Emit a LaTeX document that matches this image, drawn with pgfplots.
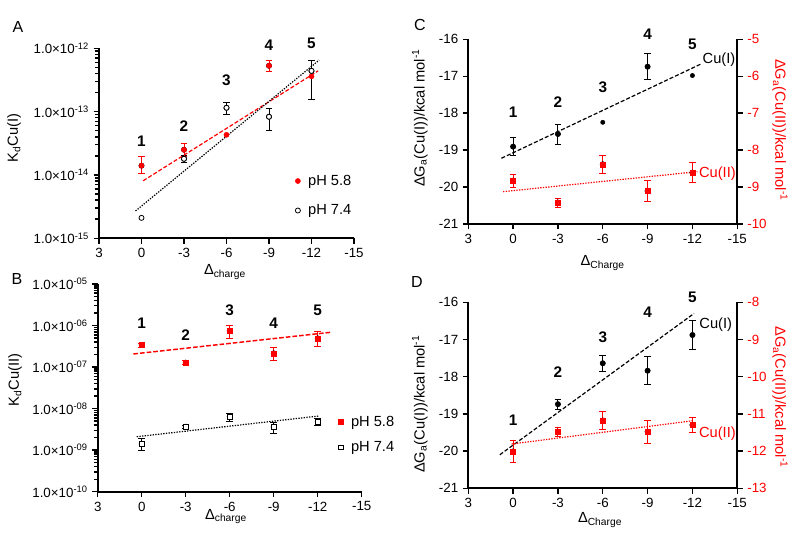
\documentclass[border=0pt]{standalone}
\usepackage{fontspec}
\setmainfont{Liberation Sans}
\usepackage{pgfplots}
\pgfplotsset{compat=1.18}
\pgfplotsset{
  panel/.style={
    scale only axis, clip=false, anchor=south west,
    x dir=reverse, xmin=-15, xmax=3, xtick={3,0,-3,-6,-9,-12,-15},
    axis line style={-, line width=1.4pt},
    tick align=outside,
    major tick length=4pt,
    every tick/.style={black, line width=1.1pt},
    tick label style={font=\fontsize{10}{12}\selectfont},
    /pgf/number format/assume math mode=true,
    label style={font=\fontsize{11}{13}\selectfont},
    legend style={draw=none, fill=none, font=\fontsize{11}{13}\selectfont, inner sep=0pt},
    legend cell align=left,
    legend image code/.code={\draw[##1] plot coordinates {(0pt,0pt)}; \path (5.5pt,0pt);},
  },
  logminor/.style={extra y tick labels={}, extra y tick style={major tick length=2.8pt}},
  ebar/.style={forget plot, only marks, mark=none, error bars/.cd, y dir=both, y explicit,
    error bar style={line width=0.7pt, solid, draw=#1},
    error mark options={rotate=90, mark size=2.5pt, line width=0.7pt, draw=#1}},
  fit/.style={no marks, line width=0.9pt, forget plot},
}
\tikzset{
  num/.style={font=\bfseries\fontsize{11.5}{13}\selectfont},
  lab/.style={font=\fontsize{11}{13}\selectfont},
}
\begin{document}
\begin{tikzpicture}
\path[use as bounding box] (0,0) rectangle (600pt,408pt);
\node[font=\fontsize{12}{14}\selectfont] at (13.5pt,387.75pt) {A};
\node[font=\fontsize{12}{14}\selectfont] at (12.75pt,198.75pt) {B};
\node[font=\fontsize{12}{14}\selectfont] at (315pt,389.25pt) {C};
\node[font=\fontsize{12}{14}\selectfont] at (312.75pt,196.5pt) {D};

% ---------------- Panel A
\begin{axis}[panel, at={(74.25pt,229.3pt)}, width=191.25pt, height=142.5pt,
  axis lines*=left, xtick pos=left, ytick pos=left, ymode=log, log basis y=10, ymin=1e-15, ymax=1e-12,
  ytick={1e-15,1e-14,1e-13,1e-12}, logminor,
  extra y ticks={2e-15,3e-15,4e-15,5e-15,6e-15,7e-15,8e-15,9e-15,2e-14,3e-14,4e-14,5e-14,6e-14,7e-14,8e-14,9e-14,2e-13,3e-13,4e-13,5e-13,6e-13,7e-13,8e-13,9e-13},
  yticklabels={1.0×10\textsuperscript{-15},1.0×10\textsuperscript{-14},1.0×10\textsuperscript{-13},1.0×10\textsuperscript{-12}},
  xlabel={Δ\textsubscript{charge}}, xlabel style={at={(axis description cs:0.494,-0.177)}, anchor=center},
  ylabel={K\textsubscript{d}Cu(I)}, ylabel style={at={(axis description cs:-0.333,0.528)}, anchor=center},
  legend style={at={(0.769,0.349)}, anchor=north west, row sep=9pt},
]
\addplot[fit, red, dash pattern=on 3pt off 1.5pt] coordinates {(-0.12,8.1e-15) (-12.47,4.4e-13)};
\addplot[fit, black, dash pattern=on 1pt off 1pt] coordinates {(0.42,2.7e-15) (-12.54,6.5e-13)};
\addplot[ebar=black] coordinates {(-3,1.8e-14) += (0,0.2e-14) -= (0,0.2e-14) (-6,1.15e-13) += (0,0.25e-13) -= (0,0.24e-13) (-9,8.3e-14) += (0,0.3e-13) -= (0,0.32e-13) (-12,4.4e-13) += (0,2.0e-13) -= (0,2.83e-13)};
\addplot[ebar=red] coordinates {(0,1.4e-14) += (0,0.55e-14) -= (0,0.34e-14) (-3,2.5e-14) += (0,0.66e-14) -= (0,0.55e-14) (-9,5.3e-13) += (0,1.2e-13) -= (0,1.0e-13)};
\addplot[only marks, mark=*, mark size=1.9pt, red] coordinates {(0,1.4e-14) (-3,2.5e-14) (-6,4.3e-14) (-9,5.3e-13) (-12,3.6e-13)};
\addlegendentry{pH 5.8}
\addplot[only marks, mark=*, mark size=1.9pt, black, mark options={fill=white, draw=black, line width=0.6pt}] coordinates {(0,2.1e-15) (-3,1.8e-14) (-6,1.15e-13) (-9,8.3e-14) (-12,4.4e-13)};
\addlegendentry{pH 7.4}
\node[num] at (axis cs:0,3.35e-14) {1};
\node[num] at (axis cs:-3,5.9e-14) {2};
\node[num] at (axis cs:-6,3.16e-13) {3};
\node[num] at (axis cs:-9,1.1e-12) {4};
\node[num] at (axis cs:-12,1.2e-12) {5};
\end{axis}

% ---------------- Panel B
\begin{axis}[panel, at={(73.3pt,39.2pt)}, width=198pt, height=155.8pt,
  axis lines*=left, xtick pos=left, ytick pos=left, ymode=log, log basis y=10, ymin=1e-10, ymax=1e-5,
  ytick={1e-10,1e-9,1e-8,1e-7,1e-6,1e-5}, logminor,
  extra y ticks={2e-10,3e-10,4e-10,5e-10,6e-10,7e-10,8e-10,9e-10,2e-9,3e-9,4e-9,5e-9,6e-9,7e-9,8e-9,9e-9,2e-8,3e-8,4e-8,5e-8,6e-8,7e-8,8e-8,9e-8,2e-7,3e-7,4e-7,5e-7,6e-7,7e-7,8e-7,9e-7,2e-6,3e-6,4e-6,5e-6,6e-6,7e-6,8e-6,9e-6},
  yticklabels={1.0×10\textsuperscript{-10},1.0×10\textsuperscript{-09},1.0×10\textsuperscript{-08},1.0×10\textsuperscript{-07},1.0×10\textsuperscript{-06},1.0×10\textsuperscript{-05}},
  xlabel={Δ\textsubscript{charge}}, xlabel style={at={(axis description cs:0.486,-0.12)}, anchor=center},
  ylabel={K\textsubscript{d}Cu(II)}, ylabel style={at={(axis description cs:-0.313,0.538)}, anchor=center},
  legend style={at={(0.91,0.379)}, anchor=north west, row sep=6pt},
]
\addplot[fit, red, line width=1.1pt, dash pattern=on 3.5pt off 1.5pt] coordinates {(0.57,2.07e-7) (-12.84,6.85e-7)};
\addplot[fit, black, dash pattern=on 1pt off 1pt] coordinates {(0.34,2.11e-9) (-12.05,6.64e-9)};
\addplot[ebar=red] coordinates {(0,3.4e-7) += (0,0.4e-7) -= (0,0.4e-7) (-3,1.28e-7) += (0,0.15e-7) -= (0,0.15e-7) (-6,7.5e-7) += (0,2.8e-7) -= (0,2.6e-7) (-9,2.14e-7) += (0,0.86e-7) -= (0,0.71e-7) (-12,4.9e-7) += (0,2.2e-7) -= (0,1.7e-7)};
\addplot[ebar=black] coordinates {(0,1.41e-9) += (0,0.5e-9) -= (0,0.41e-9) (-3,3.67e-9) += (0,0.3e-9) -= (0,0.3e-9) (-6,6.4e-9) += (0,1.3e-9) -= (0,1.6e-9) (-9,3.67e-9) += (0,1.1e-9) -= (0,1.2e-9) (-12,4.8e-9) += (0,1.0e-9) -= (0,0.8e-9)};
\addplot[only marks, mark=square*, mark size=1.9pt, red] coordinates {(0,3.4e-7) (-3,1.28e-7) (-6,7.5e-7) (-9,2.14e-7) (-12,4.9e-7)};
\addlegendentry{pH 5.8}
\addplot[only marks, mark=square*, mark size=1.8pt, black, mark options={fill=white, draw=black, line width=0.8pt}] coordinates {(0,1.41e-9) (-3,3.67e-9) (-6,6.4e-9) (-9,3.67e-9) (-12,4.8e-9)};
\addlegendentry{pH 7.4}
\node[num] at (axis cs:0,1.13e-6) {1};
\node[num] at (axis cs:-3,5.9e-7) {2};
\node[num] at (axis cs:-6,2.36e-6) {3};
\node[num] at (axis cs:-9,1.13e-6) {4};
\node[num] at (axis cs:-12,2.36e-6) {5};
\end{axis}

% ---------------- Panel C
\begin{axis}[panel, at={(351.2pt,240pt)}, width=201.75pt, height=138.5pt,
  axis x line*=bottom, axis y line*=left, xtick pos=left, ytick pos=left, ymin=-21, ymax=-16, ytick={-21,-20,-19,-18,-17,-16},
  xlabel={Δ\textsubscript{Charge}}, xlabel style={at={(axis description cs:0.5,-0.211)}, anchor=center},
  ylabel={ΔG\textsubscript{a}(Cu(I))/kcal mol\textsuperscript{-1}}, ylabel style={at={(axis description cs:-0.18,0.574)}, anchor=center},
]
\addplot[fit, black, dash pattern=on 3pt off 1.5pt] coordinates {(0.78,-19.22) (-12.56,-16.67)};
\addplot[ebar=black] coordinates {(0,-18.906) +- (0,0.25) (-3,-18.563) +- (0,0.27) (-9,-16.74) +- (0,0.36)};
\addplot[only marks, mark=*, mark size=1.6pt, black] coordinates {(0,-18.906) (-3,-18.563) (-6,-18.247) (-9,-16.74) (-12,-16.98)};
\node[num] at (axis cs:0,-17.96) {1};
\node[num] at (axis cs:-3,-17.69) {2};
\node[num] at (axis cs:-6,-17.3) {3};
\node[num] at (axis cs:-9,-15.86) {4};
\node[num] at (axis cs:-12,-16.13) {5};
\node[lab] at (axis cs:-13.78,-16.56) {Cu(I)};
\end{axis}
\begin{axis}[panel, at={(351.2pt,240pt)}, width=201.75pt, height=138.5pt,
  axis x line=none, axis y line*=right, ytick pos=right, ymin=-10, ymax=-5, ytick={-10,-9,-8,-7,-6,-5},
  yticklabel style={text=red},
  ylabel={ΔG\textsubscript{a}(Cu(II))/kcal mol\textsuperscript{-1}}, ylabel style={at={(axis description cs:1.159,0.509)}, anchor=center, rotate=180, text=red},
]
\addplot[fit, red, dash pattern=on 1pt off 1pt] coordinates {(0.67,-9.125) (-12.33,-8.583)};
\addplot[ebar=red] coordinates {(0,-8.827) +- (0,0.18) (-3,-9.42) +- (0,0.12) (-6,-8.384) +- (0,0.25) (-9,-9.106) +- (0,0.28) (-12,-8.61) +- (0,0.27)};
\addplot[only marks, mark=square*, mark size=1.9pt, red] coordinates {(0,-8.827) (-3,-9.42) (-6,-8.384) (-9,-9.106) (-12,-8.61)};
\node[lab, text=red] at (axis cs:-13.67,-8.63) {Cu(II)};
\end{axis}

% ---------------- Panel D
\begin{axis}[panel, at={(351.2pt,41.8pt)}, width=201.75pt, height=139.5pt,
  axis x line*=bottom, axis y line*=left, xtick pos=left, ytick pos=left, ymin=-21, ymax=-16, ytick={-21,-20,-19,-18,-17,-16},
  xlabel={Δ\textsubscript{Charge}}, xlabel style={at={(axis description cs:0.49,-0.17)}, anchor=center},
  ylabel={ΔG\textsubscript{a}(Cu(I))/kcal mol\textsuperscript{-1}}, ylabel style={at={(axis description cs:-0.18,0.453)}, anchor=center},
]
\addplot[fit, black, dash pattern=on 3pt off 1.5pt] coordinates {(0.89,-20.10) (-12.11,-16.30)};
\addplot[ebar=black] coordinates {(-3,-18.74) +- (0,0.13) (-6,-17.64) +- (0,0.22) (-9,-17.84) +- (0,0.37) (-12,-16.88) +- (0,0.4)};
\addplot[only marks, mark=*, mark size=1.6pt, black] coordinates {(0,-20.02) (-3,-18.74) (-6,-17.64) (-9,-17.84) (-12,-16.88)};
\node[num] at (axis cs:0,-19.18) {1};
\node[num] at (axis cs:-3,-17.88) {2};
\node[num] at (axis cs:-6,-16.95) {3};
\node[num] at (axis cs:-9,-16.27) {4};
\node[num] at (axis cs:-12,-15.87) {5};
\node[lab] at (axis cs:-13.56,-16.61) {Cu(I)};
\end{axis}
\begin{axis}[panel, at={(351.2pt,41.8pt)}, width=201.75pt, height=139.5pt,
  axis x line=none, axis y line*=right, ytick pos=right, ymin=-13, ymax=-8, ytick={-13,-12,-11,-10,-9,-8},
  yticklabel style={text=red},
  ylabel={ΔG\textsubscript{a}(Cu(II))/kcal mol\textsuperscript{-1}}, ylabel style={at={(axis description cs:1.159,0.49)}, anchor=center, rotate=180, text=red},
]
\addplot[fit, red, dash pattern=on 1pt off 1pt] coordinates {(0.1,-11.81) (-12.11,-11.18)};
\addplot[ebar=red] coordinates {(0,-12.01) +- (0,0.3) (-3,-11.48) +- (0,0.12) (-6,-11.18) +- (0,0.24) (-9,-11.48) +- (0,0.31) (-12,-11.30) +- (0,0.2)};
\addplot[only marks, mark=square*, mark size=1.9pt, red] coordinates {(0,-12.01) (-3,-11.48) (-6,-11.18) (-9,-11.48) (-12,-11.30)};
\node[lab, text=red] at (axis cs:-13.67,-11.52) {Cu(II)};
\end{axis}
\end{tikzpicture}
\end{document}
